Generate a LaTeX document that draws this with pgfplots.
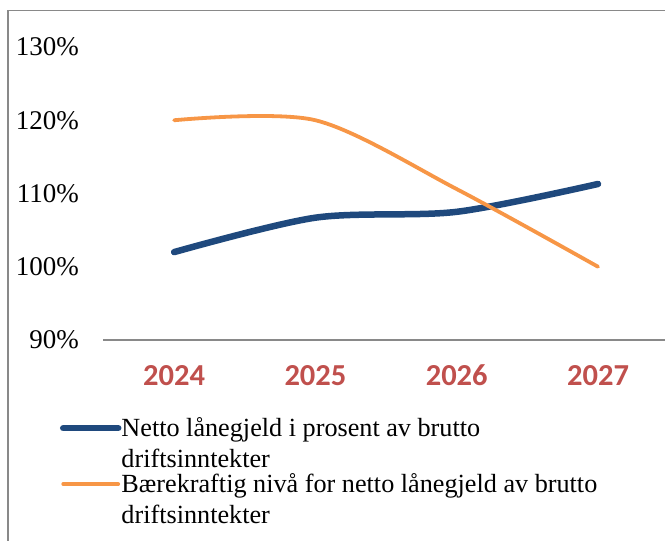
\documentclass[border=0pt]{standalone}
\usepackage{fontspec}
\setmainfont{Liberation Serif}
\newfontfamily\catfont{Carlito}
\usepackage{pgfplots}
\pgfplotsset{compat=1.18}
\definecolor{netblue}{HTML}{1F497D}
\definecolor{bkorange}{HTML}{F79646}
\definecolor{catred}{HTML}{C0504D}
\definecolor{framegray}{HTML}{898989}
\begin{document}
\begin{tikzpicture}
\useasboundingbox (0,0) rectangle (665pt,541pt);
\draw[framegray, line width=1.5pt] (8pt,-1pt) -- (8pt,530.5pt) -- (666pt,530.5pt);
\begin{axis}[
  at={(103.5pt,201pt)}, anchor=south west,
  scale only axis, width=561.5pt, height=293pt,
  xmin=-0.5, xmax=3.474, ymin=90, ymax=130,
  axis x line*=bottom, axis y line*=left,
  x axis line style={framegray, line width=1.5pt, -},
  y axis line style={draw=none},
  tick style={draw=none},
  xtick={0,1,2,3}, xticklabels={2024,2025,2026,2027},
  xticklabel style={font=\catfont\bfseries\fontsize{30.5}{36}\selectfont, text=catred, anchor=base, inner sep=0pt, yshift=-46pt},
  ytick={90,100,110,120,130},
  yticklabel={\pgfmathprintnumber{\tick}\%},
  yticklabel style={font=\fontsize{27}{32}\selectfont, anchor=east, inner sep=0pt, xshift=-24.5pt},
  /pgf/number format/assume math mode=true,
  clip=false,
  legend cell align=left,
  legend image code/.code={\draw[#1, line cap=round] (0pt,15.25pt) -- (55pt,15.25pt);},
  legend style={at={(-0.0775,-0.266)}, anchor=north west, draw=none, fill=none,
    inner sep=0pt, outer sep=0pt, row sep=5pt,
    font=\fontsize{26.2}{30.5}\selectfont,
    nodes={inner sep=0pt, align=left},
    /tikz/every even column/.append style={column sep=4pt}},
]
\addplot[netblue, line width=6.5pt, line cap=round, smooth] coordinates {(0,102.0) (1,106.7) (2,107.5) (3,111.3)};
\addlegendentry{Netto lånegjeld i prosent av brutto\\driftsinntekter}
\addplot[bkorange, line width=3.8pt, line cap=round, smooth] coordinates {(0,120.0) (1,120.0) (2,110.6) (3,100.0)};
\addlegendentry{Bærekraftig nivå for netto lånegjeld av brutto\\driftsinntekter}
\end{axis}
\end{tikzpicture}
\end{document}
